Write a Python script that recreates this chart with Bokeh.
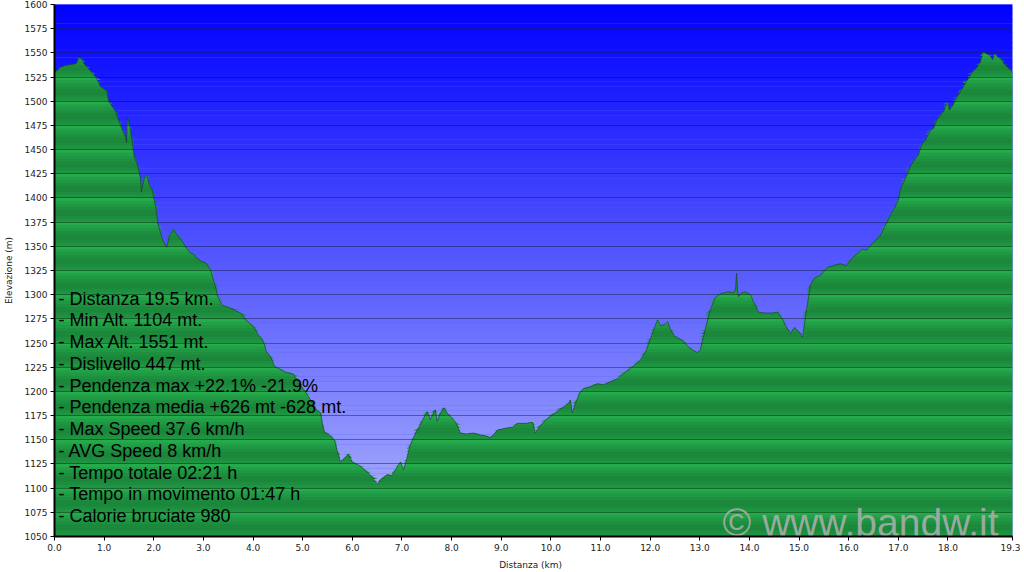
import numpy as np
from bokeh.plotting import figure
from bokeh.models import Range1d, FixedTicker, NumeralTickFormatter
from bokeh.core.properties import value
from bokeh.embed import file_html
from bokeh.resources import INLINE

# ---------------- data ----------------
distance_km = [
    0.00, 0.06, 0.12, 0.22, 0.36, 0.44, 0.50, 0.54, 0.62, 0.73, 0.83, 0.93, 1.01, 1.05,
    1.09, 1.17, 1.23, 1.29, 1.37, 1.43, 1.45, 1.47, 1.51, 1.55, 1.61, 1.67, 1.73, 1.75,
    1.81, 1.85, 1.91, 1.97, 2.03, 2.09, 2.18, 2.26, 2.32, 2.40, 2.48, 2.60, 2.66, 2.74,
    2.80, 2.86, 2.94, 3.04, 3.14, 3.22, 3.30, 3.38, 3.55, 3.75, 3.89, 4.01, 4.11, 4.17,
    4.21, 4.27, 4.35, 4.43, 4.51, 4.65, 4.81, 4.92, 5.02, 5.16, 5.28, 5.36, 5.40, 5.44,
    5.56, 5.64, 5.70, 5.76, 5.84, 5.92, 6.00, 6.12, 6.25, 6.37, 6.51, 6.57, 6.65, 6.71,
    6.79, 6.87, 6.93, 6.97, 7.03, 7.09, 7.17, 7.23, 7.33, 7.41, 7.51, 7.57, 7.67, 7.71,
    7.78, 7.84, 7.92, 8.00, 8.08, 8.18, 8.30, 8.44, 8.58, 8.70, 8.78, 8.86, 8.92, 9.09,
    9.23, 9.33, 9.49, 9.63, 9.69, 9.79, 9.93, 10.09, 10.26, 10.36, 10.39, 10.43, 10.52,
    10.60, 10.66, 10.80, 10.94, 11.06, 11.20, 11.34, 11.50, 11.66, 11.80, 11.91, 12.01,
    12.09, 12.15, 12.21, 12.29, 12.35, 12.41, 12.49, 12.57, 12.67, 12.75, 12.85, 12.95,
    13.01, 13.11, 13.21, 13.31, 13.42, 13.56, 13.68, 13.72, 13.74, 13.76, 13.78, 13.84,
    13.92, 14.02, 14.10, 14.18, 14.30, 14.46, 14.56, 14.65, 14.75, 14.83, 14.91, 14.99,
    15.07, 15.15, 15.23, 15.31, 15.43, 15.57, 15.69, 15.83, 15.95, 16.04, 16.16, 16.28,
    16.36, 16.44, 16.52, 16.64, 16.74, 16.84, 16.94, 17.00, 17.04, 17.14, 17.24, 17.32,
    17.40, 17.47, 17.55, 17.65, 17.71, 17.77, 17.85, 17.91, 17.99, 18.03, 18.09, 18.19,
    18.29, 18.39, 18.49, 18.57, 18.65, 18.71, 18.77, 18.83, 18.90, 18.94, 19.00, 19.06,
    19.14, 19.22, 19.30,
]
elevation_m = [
    1530, 1532, 1535, 1537, 1538, 1539, 1545, 1544, 1537, 1531, 1525, 1515, 1512, 1511,
    1500, 1494, 1489, 1480, 1470, 1463, 1457, 1483, 1475, 1463, 1442, 1434, 1421, 1406,
    1420, 1424, 1414, 1408, 1393, 1372, 1356, 1349, 1361, 1367, 1361, 1353, 1348, 1343,
    1342, 1338, 1335, 1333, 1326, 1312, 1297, 1289, 1286, 1281, 1272, 1267, 1258, 1255,
    1251, 1241, 1236, 1226, 1224, 1220, 1218, 1209, 1202, 1191, 1181, 1178, 1166, 1158,
    1154, 1150, 1138, 1127, 1131, 1135, 1127, 1124, 1119, 1113, 1104, 1109, 1112, 1114,
    1113, 1119, 1124, 1127, 1119, 1129, 1145, 1152, 1162, 1170, 1179, 1171, 1181, 1169,
    1178, 1183, 1177, 1173, 1168, 1157, 1156, 1157, 1155, 1154, 1152, 1156, 1160, 1162,
    1163, 1167, 1167, 1168, 1157, 1165, 1172, 1178, 1184, 1188, 1191, 1178, 1191,
    1200, 1203, 1205, 1208, 1207, 1210, 1213, 1220, 1226, 1232, 1241, 1255,
    1266, 1274, 1268, 1269, 1272, 1264, 1257, 1255, 1252, 1247, 1243, 1240,
    1243, 1264, 1284, 1297, 1301, 1303, 1302, 1305, 1322, 1305, 1298, 1302,
    1303, 1300, 1291, 1282, 1281, 1281, 1282, 1276, 1266, 1260, 1266, 1262,
    1256, 1284, 1310, 1317, 1320, 1328, 1330, 1332, 1330, 1336, 1342, 1347,
    1346, 1351, 1355, 1361, 1372, 1382, 1391, 1398, 1408, 1420, 1432, 1439,
    1444, 1455, 1460, 1470, 1472, 1480, 1486, 1489, 1499, 1491, 1495, 1505,
    1513, 1522, 1530, 1534, 1540, 1551, 1549, 1548, 1543, 1549, 1546, 1544,
    1538, 1534, 1530,
]
x_ticks = [0.0, 1.0, 2.0, 3.0, 4.0, 5.0, 6.0, 7.0, 8.0, 9.0, 10.0, 11.0, 12.0,
           13.0, 14.0, 15.0, 16.0, 17.0, 18.0, 19.3]
y_ticks = list(range(1050, 1601, 25))
stats_lines = [
    "- Distanza 19.5 km.",
    "- Min Alt. 1104 mt.",
    "- Max Alt. 1551 mt.",
    "- Dislivello 447 mt.",
    "- Pendenza max +22.1% -21.9%",
    "- Pendenza media +626 mt -628 mt.",
    "- Max Speed 37.6 km/h",
    "- AVG Speed 8 km/h",
    "- Tempo totale 02:21 h",
    "- Tempo in movimento 01:47 h",
    "- Calorie bruciate 980",
]
watermark_text = ["\u00a9 www.bandw.it"]
x_title = "Distanza   (km)"
y_title = "Elevazione (m)"

# ---------------- figure ----------------
x0, x1 = x_ticks[0], x_ticks[-1]
y0, y1 = y_ticks[0], y_ticks[-1]

p = figure(width=1020, height=572, x_range=Range1d(x0, x1), y_range=Range1d(y0, y1),
           output_backend="svg", toolbar_location=None,
           min_border_left=54, min_border_right=8, min_border_top=4, min_border_bottom=30)
p.outline_line_color = None
p.background_fill_color = "#5a5ef9"
p.border_fill_color = "white"
p.xgrid.visible = False
p.ygrid.visible = False

km = np.array(distance_km, dtype=float)
el = np.array(elevation_m, dtype=float)

def hexcol(c):
    return "#%02x%02x%02x" % tuple(int(round(v)) for v in c)

# sky gradient
n_sky = 110
edges = np.linspace(y0, y1, n_sky + 1)
top_c = np.array([0, 0, 255]); bot_c = np.array([175, 182, 252])
sky_cols = []
for i in range(n_sky):
    t = (edges[i] + edges[i + 1]) / 2
    f = (t - y0) / (y1 - y0)
    sky_cols.append(hexcol(bot_c + (top_c - bot_c) * f))
p.hstrip(y0=edges[:-1], y1=edges[1:] + 0.6, fill_color=sky_cols, line_color=None)

# green base
p.varea(x=km, y1=el, y2=y0, fill_color="#1f9a42")

# green banding
dark = np.array([22, 118, 52]); light = np.array([38, 176, 78])
sub = 8
step = 25 / sub
for lo_band in y_ticks[:-1]:
    for j in range(sub):
        lo = lo_band + j * step
        hi = lo + step
        t = (j + 0.5) / sub
        if t < 0.35:
            s = 0.25 + ((0.35 - t) / 0.35) * 0.35
        else:
            s = 0.25 + 0.75 * ((t - 0.35) / 0.65) ** 1.3
        col = hexcol(dark + (light - dark) * s)
        y_top = np.clip(el, lo, hi + 0.3)
        p.varea(x=km, y1=y_top, y2=lo, fill_color=col)

# gridlines on top
p.hspan(y=y_ticks[1:-1], line_color="black", line_alpha=0.35, line_width=1)

# profile outline
p.line(km, el, line_color="#1b3a24", line_width=1, line_alpha=0.6)

# stats text
ys = [1296 - i * 22.5 for i in range(len(stats_lines))]
p.text(x=[0.08] * len(stats_lines), y=ys, text=stats_lines,
       text_font=value("Liberation Sans"), text_font_size="18px",
       text_baseline="middle", text_align="left", text_color="black")

# watermark (glyph, kept inside the frame)
p.text(x=[13.46], y=[1064], text=watermark_text,
       text_font=value("Liberation Sans"), text_font_size="39px",
       text_color="#b0b0b0", text_alpha=0.85, text_baseline="alphabetic",
       text_align="left")

# axes
for ax in (p.xaxis, p.yaxis):
    ax.axis_line_color = "black"
    ax.axis_line_width = 2
    ax.major_tick_line_color = "black"
    ax.major_tick_out = 4
    ax.major_tick_in = 0
    ax.minor_tick_line_color = None
    ax.major_label_text_font = "DejaVu Sans"
    ax.major_label_text_font_size = "9px"
    ax.major_label_text_color = "#222222"
    ax.axis_label_text_font = "DejaVu Sans"
    ax.axis_label_text_font_size = "9px"
    ax.axis_label_text_font_style = "normal"
    ax.axis_label_text_color = "#222222"
p.xaxis.ticker = FixedTicker(ticks=x_ticks)
p.xaxis.formatter = NumeralTickFormatter(format="0.0")
p.xaxis.major_label_standoff = 3
p.xaxis.axis_label = x_title
p.xaxis.axis_label_standoff = 6
p.yaxis.ticker = FixedTicker(ticks=y_ticks)
p.yaxis.major_label_standoff = 3
p.yaxis.axis_label = y_title
p.yaxis.axis_label_standoff = 8

open("out.html", "w").write(file_html(p, INLINE))
